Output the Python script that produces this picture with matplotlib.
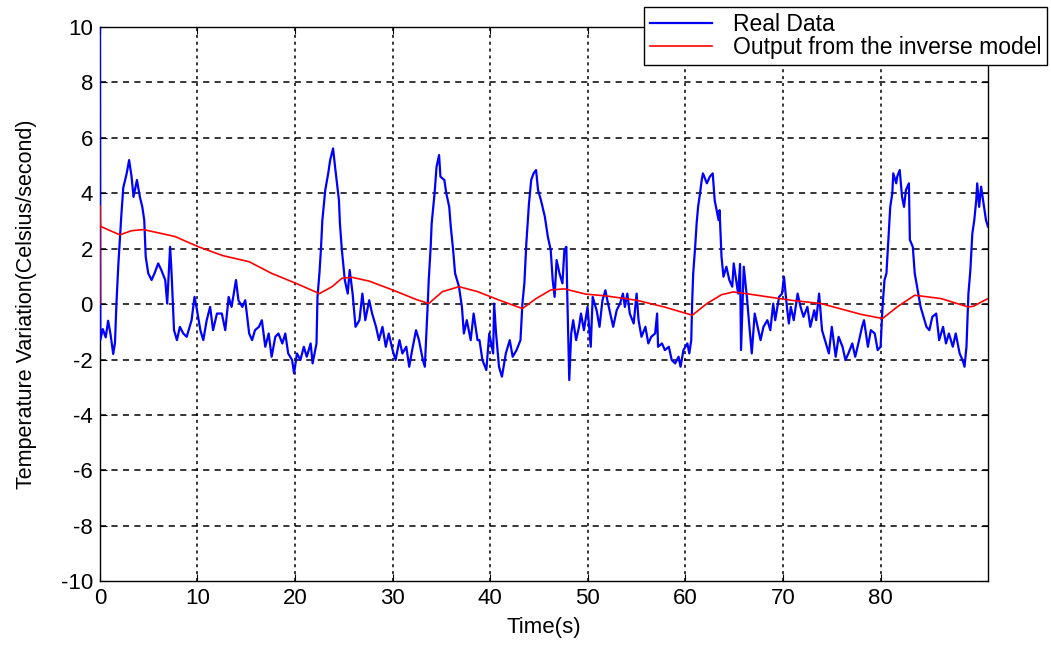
import matplotlib
matplotlib.use("Agg")
import matplotlib.pyplot as plt

# measured signal (time in s, value in Celsius/second)
t_real = [0.0, 0.0, 0.05, 0.3, 0.6, 0.85, 1.1, 1.37, 1.55, 1.7, 1.9, 2.2, 2.4, 2.74, 3.0,
          3.25, 3.45, 3.8, 4.1, 4.35, 4.55, 4.7, 4.96, 5.3, 5.6, 5.98, 6.3, 6.7, 6.9,
          7.2, 7.35, 7.6, 7.9, 8.2, 8.55, 8.9, 9.4, 9.7, 9.9, 10.3, 10.6, 10.95, 11.3,
          11.6, 12.0, 12.5, 12.85, 13.2, 13.5, 13.95, 14.2, 14.6, 14.9, 15.3, 15.6,
          15.9, 16.3, 16.6, 16.95, 17.3, 17.6, 17.98, 18.3, 18.7, 19.0, 19.3, 19.7,
          19.9, 20.2, 20.55, 20.9, 21.2, 21.6, 21.8, 22.2, 22.3, 22.5, 22.65, 22.8,
          23.1, 23.4, 23.6, 23.9, 24.1, 24.3, 24.5, 24.6, 24.8, 25.1, 25.4, 25.6,
          25.9, 26.2, 26.6, 26.9, 27.2, 27.6, 27.9, 28.3, 28.6, 28.96, 29.3, 29.6,
          30.0, 30.3, 30.7, 31.0, 31.4, 31.7, 32.0, 32.4, 32.7, 33.1, 33.3, 33.6,
          33.7, 33.9, 34.0, 34.3, 34.5, 34.76, 34.9, 35.3, 35.5, 35.8, 35.96, 36.2,
          36.4, 36.8, 37.1, 37.3, 37.6, 38.0, 38.3, 38.7, 38.9, 39.2, 39.6, 39.9,
          40.3, 40.4, 40.6, 40.9, 41.2, 41.6, 42.0, 42.3, 42.7, 43.1, 43.3, 43.5,
          43.7, 43.97, 44.2, 44.44, 44.7, 44.9, 45.2, 45.6, 45.9, 46.2, 46.4, 46.6,
          46.8, 47.1, 47.4, 47.6, 47.8, 47.9, 48.1, 48.3, 48.5, 48.8, 49.1, 49.3,
          49.6, 49.97, 50.3, 50.5, 50.9, 51.2, 51.5, 51.8, 52.0, 52.3, 52.6, 52.96,
          53.3, 53.6, 53.8, 54.05, 54.3, 54.7, 55.0, 55.2, 55.5, 55.9, 56.2, 56.5,
          56.9, 57.1, 57.2, 57.6, 57.9, 58.3, 58.6, 58.95, 59.3, 59.5, 59.8, 60.2,
          60.4, 60.6, 60.7, 60.8, 61.0, 61.15, 61.3, 61.5, 61.67, 61.8, 62.2, 62.5,
          62.8, 63.0, 63.4, 63.5, 63.7, 63.9, 64.2, 64.5, 64.8, 64.95, 65.1, 65.4,
          65.6, 65.7, 65.98, 66.3, 66.5, 66.8, 67.1, 67.4, 67.7, 68.0, 68.4, 68.7,
          69.0, 69.2, 69.6, 69.9, 70.1, 70.4, 70.6, 70.8, 71.1, 71.5, 71.8, 72.1,
          72.5, 72.8, 73.2, 73.4, 73.7, 74.0, 74.3, 74.7, 75.0, 75.4, 75.7, 76.1,
          76.4, 76.7, 77.1, 77.4, 77.8, 78.1, 78.3, 78.7, 79.0, 79.4, 79.7, 80.0,
          80.2, 80.4, 80.6, 80.8, 80.99, 81.2, 81.3, 81.6, 81.7, 81.96, 82.2, 82.4,
          82.6, 82.9, 83.0, 83.3, 83.5, 83.8, 84.1, 84.3, 84.7, 85.0, 85.3, 85.7,
          86.0, 86.4, 86.7, 87.0, 87.4, 87.7, 88.1, 88.4, 88.6, 88.8, 89.0, 89.2,
          89.4, 89.6, 89.8, 89.9, 90.1, 90.3, 90.6, 90.8, 91.0]
v_real = [10.5, 10.5, -1.3, -0.9, -1.2, -0.6, -1.1, -1.8, -1.4, 0.02, 1.45, 3.2, 4.2, 4.7, 5.2,
          4.6, 3.87, 4.48, 3.87, 3.51, 3.03, 1.71, 1.11, 0.87, 1.11, 1.47, 1.23, 0.87, 0.02,
          2.07, 1.11, -0.94, -1.3, -0.82, -1.06, -1.18, -0.58, 0.26, -0.1, -0.94, -1.3, -0.58, -0.1,
          -0.94, -0.34, -0.34, -0.94, 0.26, -0.1, 0.87, 0.14, -0.1, 0.14, -1.06, -1.3,
          -0.94, -0.82, -0.58, -1.54, -1.06, -1.9, -1.18, -1.06, -1.42, -1.06, -1.78, -2.02,
          -2.5, -1.78, -2.02, -1.54, -1.9, -1.42, -2.14, -1.42, 0.26, 1.11, 1.95, 3.03,
          4.12, 4.72, 5.2, 5.62, 4.96, 4.36, 3.75, 2.91, 1.95, 0.87, 0.38, 1.23,
          0.38, -0.82, -0.58, 0.38, -0.58, 0.14, -0.34, -0.82, -1.3, -0.82, -1.54, -1.06,
          -1.66, -2.02, -1.3, -1.78, -1.54, -2.26, -1.66, -0.94, -1.3, -2.02, -2.26, 0.02,
          0.87, 2.07, 2.91, 4.0, 4.96, 5.38, 4.6, 4.48, 4.0, 3.51, 2.79, 1.95,
          1.11, 0.63, -0.1, -1.06, -0.58, -1.3, -0.34, -1.3, -1.3, -2.02, -2.38, -1.06,
          -1.78, 0.02, -1.06, -2.26, -2.62, -1.78, -1.3, -1.9, -1.66, -1.3, 0.02, 0.75,
          2.19, 3.63, 4.48, 4.72, 4.84, 4.12, 3.75, 3.15, 2.44, 1.95, 0.87, 0.26,
          1.59, 1.11, 0.75, 1.95, 2.07, 0.26, -2.74, -1.06, -0.58, -1.3, -0.82, -0.34,
          -0.94, -0.1, -1.54, 0.26, -0.22, -0.82, 0.14, 0.5, 0.14, -0.34, -0.82, -0.22,
          0.02, 0.38, -0.1, 0.38, -0.34, -0.7, 0.38, -0.58, -1.18, -0.82, -1.42, -1.18,
          -1.06, -0.34, -1.54, -1.42, -1.66, -1.54, -2.02, -2.14, -1.9, -2.26, -1.66, -1.42,
          -1.78, -1.3, 0.14, 1.11, 2.07, 2.91, 3.51, 4.0, 4.48, 4.72, 4.36, 4.6,
          4.72, 3.75, 3.03, 3.39, 1.71, 0.99, 1.35, 0.87, 0.63, 1.47, 1.11, 0.38,
          1.45, -1.66, 1.35, 0.26, -0.58, -1.78, -0.34, -0.82, -1.3, -0.82, -0.58, -0.94,
          0.02, -0.58, 0.26, 0.38, 0.99, -0.1, -0.7, -0.1, -0.58, 0.38, -0.1, -0.46,
          -0.1, -0.82, -0.22, -0.58, 0.38, -0.94, -1.3, -1.78, -0.82, -1.9, -1.18, -1.54,
          -2.02, -1.78, -1.42, -1.9, -1.3, -0.82, -0.58, -1.54, -0.94, -1.06, -1.66, -1.54,
          -0.1, 0.87, 1.11, 2.32, 3.51, 4.0, 4.72, 4.36, 4.6, 4.84, 3.87, 3.51,
          4.12, 4.36, 2.32, 2.07, 1.11, 0.51, -0.1, -0.34, -0.82, -0.94, -0.46, -0.34,
          -1.3, -0.82, -1.42, -1.06, -1.54, -1.06, -1.78, -2.02, -2.26, -1.54, 0.38, 1.23,
          2.55, 3.03, 3.75, 4.36, 3.51, 4.24, 3.51, 3.03, 2.8]

# output of the inverse model
t_model = [0.0, 0.0, 0.05, 0.17, 2.05, 3.25, 4.45, 6.3, 7.7, 10.1, 12.6, 15.3, 17.6,
           20.1, 22.5, 23.8, 24.8, 25.8, 27.6, 30.0, 32.4, 33.7, 35.1, 36.8, 38.7,
           40.95, 43.3, 44.7, 46.2, 47.6, 49.8, 51.8, 55.0, 57.8, 60.7, 62.2, 63.7,
           64.9, 66.2, 70.8, 73.9, 78.0, 80.2, 81.7, 83.5, 86.2, 88.95, 89.5, 91.0]
v_model = [0.0, 3.55, 2.85, 2.79, 2.5, 2.65, 2.69, 2.55, 2.44, 2.07, 1.75, 1.53, 1.11,
           0.75, 0.38, 0.63, 0.93, 0.97, 0.83, 0.51, 0.17, 0.02, 0.45, 0.63, 0.45,
           0.14, -0.16, 0.2, 0.51, 0.55, 0.36, 0.3, 0.14, -0.1, -0.4, 0.02, 0.34,
           0.44, 0.38, 0.14, 0.02, -0.37, -0.52, -0.1, 0.32, 0.2, -0.1, -0.08, 0.2]

x_ticks = list(range(0, 90, 10))
y_ticks = list(range(-10, 11, 2))

plt.rcParams['font.family'] = ['Liberation Sans', 'DejaVu Sans']
plt.rcParams['axes.unicode_minus'] = False

fig = plt.figure(figsize=(10.51, 6.45), dpi=100)
ax = fig.add_axes([0.095, 0.099, 0.845, 0.859])

ax.plot(t_real, v_real, color='#0000ff', lw=1.6, label='Real Data', zorder=3)
ax.plot(t_model, v_model, color='#ff0000', lw=1.2, label='Output from the inverse model', zorder=3)

ax.set_xlim(0, 91)
ax.set_ylim(-10, 10)
ax.set_xticks(x_ticks)
ax.set_yticks(y_ticks)
ax.tick_params(direction='in', length=5, labelsize=16, top=True, right=True, pad=5)

for y in y_ticks[1:-1]:
    ax.axhline(y, color='black', lw=1.1, ls=(0, (4, 3.5)), zorder=0)
for x in x_ticks[1:]:
    ax.axvline(x, color='black', lw=1.1, ls=(0, (2, 2.5)), zorder=0)

for s in ax.spines.values():
    s.set_color('black')
    s.set_linewidth(1.0)

ax.set_xlabel('Time(s)', fontsize=16, labelpad=6)
ax.set_ylabel('Temperature Variation(Celsius/second)', fontsize=15.5, labelpad=17)

leg = ax.legend(loc='upper right', bbox_to_anchor=(0.996, 0.989), bbox_transform=fig.transFigure,
                fontsize=16.5, fancybox=False, edgecolor='black', framealpha=1,
                handlelength=2.7, labelspacing=0.0, borderpad=0.25, handletextpad=0.9,
                borderaxespad=0)
leg.get_frame().set_linewidth(1.0)

fig.savefig('out.png', dpi=100)
